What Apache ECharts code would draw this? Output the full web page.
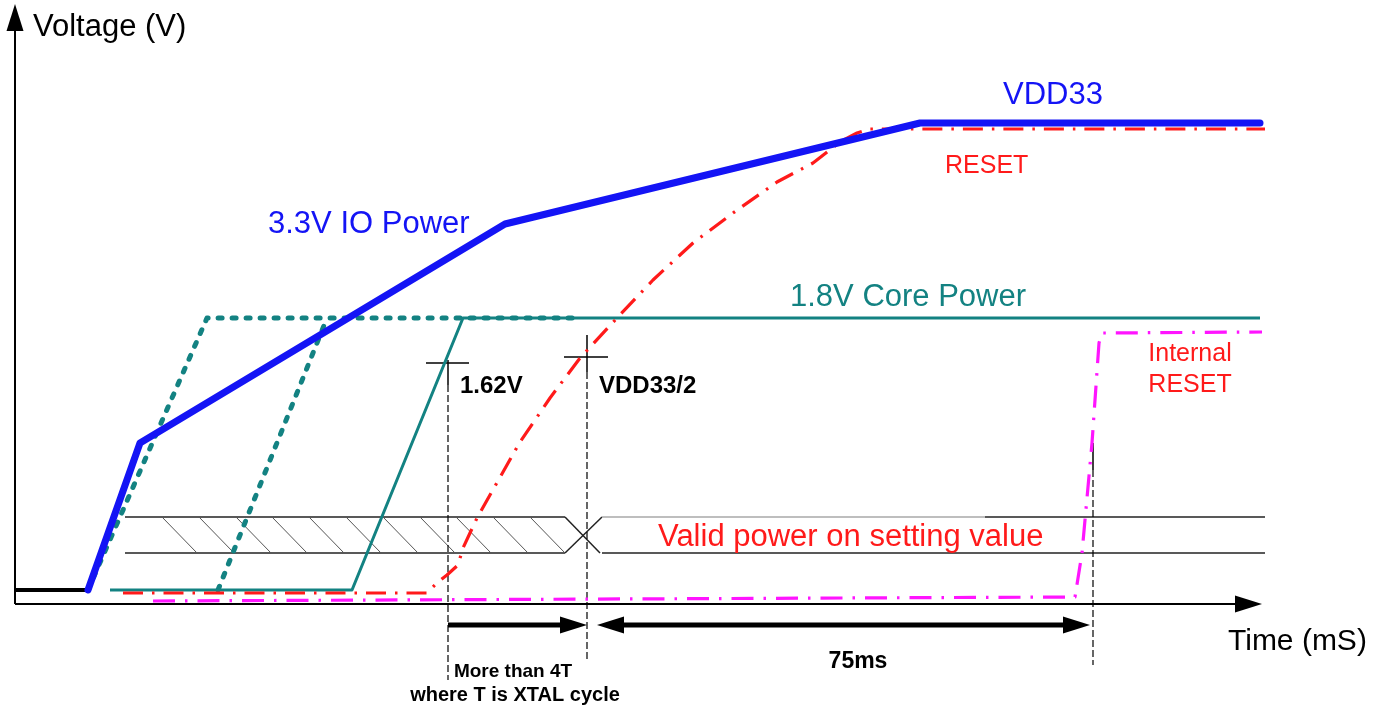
<!DOCTYPE html>
<html>
<head>
    <meta charset="utf-8">
    <script src="https://cdn.jsdelivr.net/npm/echarts@6/dist/echarts.min.js"></script>
    <style>html,body{margin:0;padding:0;background:#fff;}</style>
</head>
<body>
    <div id="main" style="width:1388px;height:708px"></div>

    <script type="text/javascript">
        // traces, in the picture's own x / y units (y grows downwards)
        var leadLine   = [[14, 590], [88, 590]];
        var vdd33      = [[88, 590], [140, 443], [505, 224], [920, 123], [1260, 123]];
        var coreDotA   = [[88, 590], [207, 318], [580, 318]];
        var coreDotB   = [[218, 590], [327, 318]];
        var core18     = [[110, 590], [352, 590], [463, 318], [1260, 318]];
        var reset      = [[123, 593], [427, 593], [438, 582], [447, 575], [458, 565], [463, 548], [470, 533],
                          [477, 518], [520, 442], [550, 398], [580, 358], [617, 318], [653, 280], [693, 243],
                          [733, 213], [777, 182], [813, 163], [840, 142], [857, 133], [870, 129], [1265, 129]];
        var intReset   = [[153, 601], [1075, 597], [1082, 553], [1092, 443], [1099, 343], [1102, 333], [1262, 332]];

        // valid-power band
        var bandTop = 517, bandBot = 553;
        var hatchTops = [162, 199, 236, 272, 309, 346, 383, 420, 456, 493, 530];
        var bandLines = [[125, 517, 565, 517], [125, 553, 565, 553], [565, 517, 600, 553], [565, 553, 602, 517],
                         [602, 553, 1265, 553], [985, 517, 1265, 517]];
        var bandGray  = [[602, 517, 985, 517]];

        // markers, arrows
        var crossSolid = [[426, 363, 469, 363], [448, 360, 448, 385], [564, 357, 608, 357], [587, 335, 587, 372],
                          [1093, 443, 1093, 470]];
        var crossDash  = [[448, 385, 448, 680], [587, 372, 587, 662], [1093, 470, 1093, 665]];
        var axisLines  = [[15, 28, 15, 604], [15, 604, 1240, 604]];
        var shafts     = [[448, 625, 562, 625], [620, 625, 1066, 625]];
        // tip x, tip y, direction (0 right, 1 left, 2 up)
        var heads      = [[1262, 604, 0], [15, 4, 2], [587, 625, 0], [597, 625, 1], [1090, 625, 0]];

        var BLUE = '#1414f5', TEAL = '#138282', RED = '#ff1a1a', MAG = '#ff14ff';
        var FONT = '"Liberation Sans", Arial, sans-serif';

        var hatchSegs = hatchTops.map(function (x) { return [x, bandTop, x + 35, bandBot]; });

        function lineSeries(data, color, width, dash, cap) {
            return {
                type: 'line', data: data, symbol: 'none', silent: true, animation: false,
                lineStyle: { color: color, width: width, type: dash || 'solid', cap: cap || 'butt', join: 'round' },
                z: 3
            };
        }

        function segSeries(data, color, width, dash) {
            return {
                type: 'custom', data: data, silent: true, animation: false, encode: { x: [0, 2], y: [1, 3] },
                renderItem: function (params, api) {
                    var a = api.coord([api.value(0), api.value(1)]);
                    var b = api.coord([api.value(2), api.value(3)]);
                    return {
                        type: 'line',
                        shape: { x1: a[0], y1: a[1], x2: b[0], y2: b[1] },
                        style: { stroke: color, lineWidth: width, lineDash: dash || null, fill: null }
                    };
                },
                z: 2
            };
        }

        var headSeries = {
            type: 'custom', data: heads, silent: true, animation: false, encode: { x: 0, y: 1 },
            renderItem: function (params, api) {
                var t = api.coord([api.value(0), api.value(1)]);
                var d = api.value(2), L = 27, W = 8.5, pts;
                if (d === 0) pts = [[t[0], t[1]], [t[0] - L, t[1] - W], [t[0] - L, t[1] + W]];
                else if (d === 1) pts = [[t[0], t[1]], [t[0] + L, t[1] - W], [t[0] + L, t[1] + W]];
                else pts = [[t[0], t[1]], [t[0] - W, t[1] + L], [t[0] + W, t[1] + L]];
                return { type: 'polygon', shape: { points: pts }, style: { fill: '#000' } };
            },
            z: 4
        };

        function txt(s, x, y, size, color, opts) {
            opts = opts || {};
            return {
                type: 'text', silent: true, z: 10,
                style: {
                    text: s, x: x, y: y, fill: color,
                    font: (opts.bold ? 'bold ' : '') + size + 'px ' + (opts.font || FONT),
                    align: opts.align || 'left', verticalAlign: 'middle',
                    textAlign: opts.align || 'left', textVerticalAlign: 'middle'
                }
            };
        }

        var myChart = echarts.init(document.getElementById('main'));
        var option = {
            backgroundColor: '#fff',
            animation: false,
            grid: { left: 0, right: 0, top: 0, bottom: 0 },
            xAxis: { type: 'value', min: 0, max: 1388, show: false },
            yAxis: { type: 'value', min: 0, max: 708, inverse: true, show: false },
            series: [
                segSeries(axisLines, '#000', 2),
                segSeries(bandLines, '#222', 1.5),
                segSeries(bandGray, '#a8a8a8', 1.5),
                segSeries(hatchSegs, '#555', 1),
                segSeries(crossSolid, '#000', 1.5),
                segSeries(crossDash, '#000', 1.2, [7, 3]),
                segSeries(shafts, '#000', 5),
                headSeries,
                lineSeries(leadLine, '#000', 4),
                lineSeries(coreDotA, TEAL, 5, [4, 10], 'round'),
                lineSeries(coreDotB, TEAL, 5, [4, 10], 'round'),
                lineSeries(core18, TEAL, 3),
                lineSeries(intReset, MAG, 3.2, [22, 10, 2.5, 10]),
                lineSeries(reset, RED, 3.2, [20, 9, 2.5, 9]),
                lineSeries(vdd33, BLUE, 7, null, 'round')
            ],
            graphic: [
                txt('Voltage (V)', 33, 27, 31, '#000'),
                txt('Time (mS)', 1228, 642, 30, '#000'),
                txt('3.3V IO Power', 268, 224, 31, BLUE),
                txt('VDD33', 1003, 95, 31, BLUE),
                txt('RESET', 945, 166, 25, RED),
                txt('1.8V Core Power', 790, 297, 31, TEAL),
                txt('Internal', 1190, 354, 25, RED, { align: 'center' }),
                txt('RESET', 1190, 385, 25, RED, { align: 'center' }),
                txt('Valid power on setting value', 658, 537, 31, RED),
                txt('1.62V', 460, 386, 24, '#000', { bold: true }),
                txt('VDD33/2', 599, 386, 24, '#000', { bold: true }),
                txt('More than 4T', 513, 672, 19, '#000', { bold: true, align: 'center' }),
                txt('where T is XTAL cycle', 515, 695, 20, '#000', { bold: true, align: 'center' }),
                txt('75ms', 858, 662, 23, '#000', { bold: true, align: 'center' })
            ]
        };
        myChart.setOption(option);
    </script>
</body>
</html>
